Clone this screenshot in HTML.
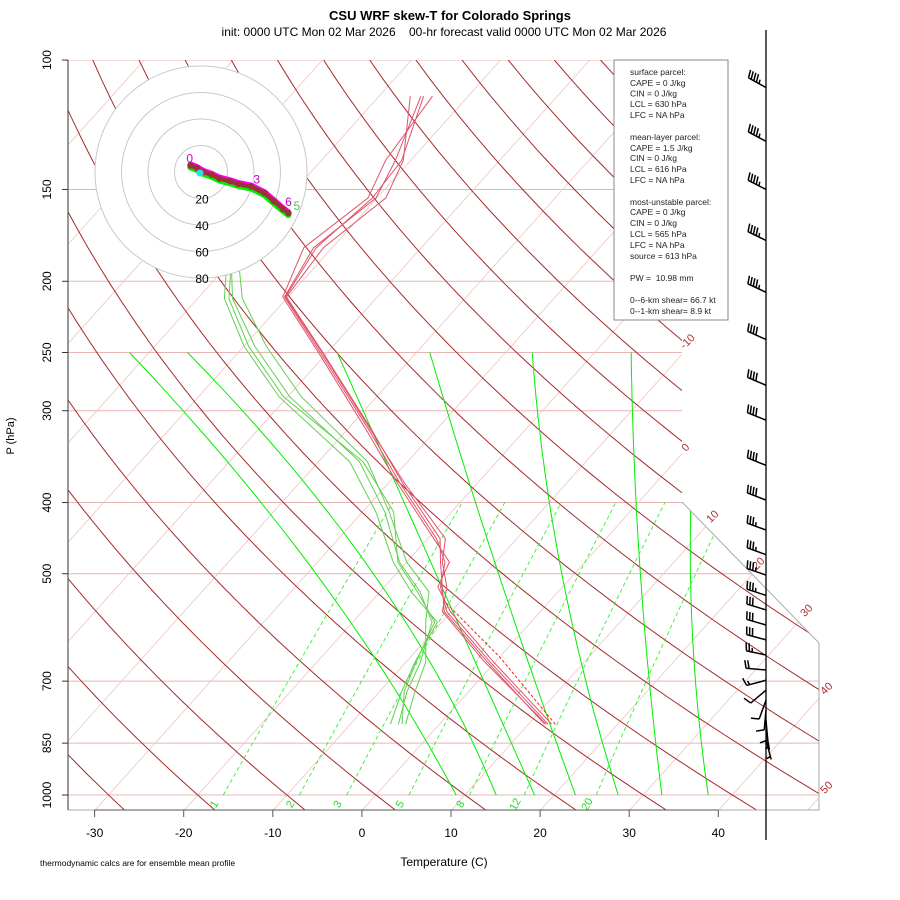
<!DOCTYPE html>
<html><head><meta charset="utf-8">
<style>
html,body{margin:0;padding:0;background:#fff;}
svg{display:block;font-family:"Liberation Sans",sans-serif;}
</style></head>
<body>
<svg id="chart" xmlns="http://www.w3.org/2000/svg" width="900" height="900" viewBox="0 0 900 900">
<defs><clipPath id="plotclip"><polygon points="68,60 682,60 682,502 819,643 819,810 68,810"/></clipPath></defs>
<text x="450" y="20" text-anchor="middle" font-size="13" font-weight="bold">CSU WRF skew-T for Colorado Springs</text>
<text x="444" y="36" text-anchor="middle" font-size="12" xml:space="preserve">init: 0000 UTC Mon 02 Mar 2026    00-hr forecast valid 0000 UTC Mon 02 Mar 2026</text>
<g id="grid" clip-path="url(#plotclip)"></g>
<g id="sounding" clip-path="url(#plotclip)"></g>
<g id="axes"></g>
<g id="hodo"></g>
<g id="barbs"></g>
<g>
<rect x="614" y="60" width="114" height="260" fill="#fff" stroke="#888" stroke-width="1"/>
<text font-size="8.5" fill="#222" xml:space="preserve">
<tspan x="630" y="75">surface parcel:</tspan>
<tspan x="630" y="86">CAPE = 0 J/kg</tspan>
<tspan x="630" y="96.5">CIN = 0 J/kg</tspan>
<tspan x="630" y="107">LCL = 630 hPa</tspan>
<tspan x="630" y="118">LFC = NA hPa</tspan>
<tspan x="630" y="140">mean-layer parcel:</tspan>
<tspan x="630" y="151">CAPE = 1.5 J/kg</tspan>
<tspan x="630" y="161">CIN = 0 J/kg</tspan>
<tspan x="630" y="172">LCL = 616 hPa</tspan>
<tspan x="630" y="183">LFC = NA hPa</tspan>
<tspan x="630" y="205">most-unstable parcel:</tspan>
<tspan x="630" y="215">CAPE = 0 J/kg</tspan>
<tspan x="630" y="226">CIN = 0 J/kg</tspan>
<tspan x="630" y="237">LCL = 565 hPa</tspan>
<tspan x="630" y="248">LFC = NA hPa</tspan>
<tspan x="630" y="259">source = 613 hPa</tspan>
<tspan x="630" y="281">PW =  10.98 mm</tspan>
<tspan x="630" y="303">0--6-km shear= 66.7 kt</tspan>
<tspan x="630" y="314">0--1-km shear= 8.9 kt</tspan>
</text>
</g>
<text x="444" y="866" text-anchor="middle" font-size="12">Temperature (C)</text>
<text x="14" y="436" text-anchor="middle" font-size="11" transform="rotate(-90 14 436)">P (hPa)</text>
<text x="40" y="866" font-size="8.5">thermodynamic calcs are for ensemble mean profile</text>
</svg>
<script>
// ---- data ----
const isobarLevels = [100,150,200,250,300,400,500,700,850,1000];
const tempTicks = [-30,-20,-10,0,10,20,30,40];
const isothermValues = [-130,-120,-110,-100,-90,-80,-70,-60,-50,-40,-30,-20,-10,0,10,20,30,40,50];
const dryAdiabatThetas = [-40,-30,-20,-10,0,10,20,30,40,50,60,70,80,90,100,110,120,130,140,150,160,170];
const moistT250 = [-72.2,-65.7,-48.9,-38.5,-27.0,-15.9,-8.0];
const moistT480 = [-31.4,-24.9,-17.5,-10.3,-3.0,6.0,11.7];
const moistT1000 = [9.0,13.5,17.8,22.4,27.2,32.1,37.3];
const mixingRatios = [1,2,3,5,8,12,20];
const tempP = [801,659,563,521,482,448,375,320,250,210,180,154,137,112];
const tempMean = [12.2,-0.6,-10.5,-13.7,-15.7,-19.0,-28.9,-37.3,-50.8,-60.4,-62.1,-60.1,-61.7,-65.3];
const tempM1 = [11.8,-0.9,-10.8,-13.5,-16.2,-18.6,-28.6,-37.0,-50.5,-60.2,-61.0,-59.0,-60.8,-66.5];
const tempM2 = [12.6,-0.2,-10.1,-14.0,-15.2,-19.3,-29.2,-37.6,-51.0,-60.6,-63.2,-61.0,-62.8,-64.0];
const tempM3 = [12.0,-1.2,-11.0,-13.0,-16.0,-18.0,-28.4,-37.1,-50.6,-60.3,-61.8,-60.5,-61.0,-65.0];
const dewP = [801,724,659,582,529,482,412,352,287,245,211,194,170];
const dewMean = [-4.6,-6.9,-8.4,-11.1,-15.5,-20.8,-27.5,-35.4,-49.8,-58.8,-66.1,-68.9,-72];
const dewM1 = [-5.5,-7.5,-9.0,-10.5,-16.5,-21.5,-28.5,-36.5,-51.0,-60.0,-67.0,-69.5,-72];
const dewM2 = [-3.8,-6.0,-7.8,-11.8,-14.5,-20.0,-27.0,-34.5,-48.5,-57.5,-65.0,-68.0,-71];
const dewM3 = [-4.2,-7.2,-8.9,-10.8,-15.8,-21.0,-26.5,-35.0,-50.5,-59.5,-66.5,-69.0,-72.5];
const parcelP = [801,649,546];
const parcelT = [13.0,0.0,-11.7];
const hodoU = [-8,-3,2,8,14,22,28,38,48,55,62,66];
const hodoV = [5,3,0,-2,-5,-7,-9,-11,-16,-22,-28,-31];
const hodoRings = [20,40,60,80];
const barbP = [109,129,150,176,207,240,277,309,356,397,436,471,502,535,560,587,615,645,676,698,720,743,766,791,816,842];
const barbDir = [299,298,297,296,295,294,293,292,292,291,290,290,289,288,287,286,285,282,275,255,230,200,185,175,170,165];
const barbSpd = [45,45,45,45,45,40,40,40,40,40,35,35,35,35,30,30,30,25,20,15,10,10,10,10,5,5];

// ---- axis functions ----
const NS='http://www.w3.org/2000/svg';
function Yp(p){return 132.182-44.061*Math.log10(p);}
function py(p){return 795-16.681*Yp(p);}
function px(T,p){return 375.9+16.5*(0.54*T+0.90692*Yp(p));}
function mk(tag,attrs,parent){const e=document.createElementNS(NS,tag);for(const k in attrs)e.setAttribute(k,attrs[k]);parent.appendChild(e);return e;}
function poly(pts){return pts.map(q=>q[0].toFixed(1)+','+q[1].toFixed(1)).join(' ');}
const grid=document.getElementById('grid'), snd=document.getElementById('sounding'), axes=document.getElementById('axes'), hodo=document.getElementById('hodo'), barbs=document.getElementById('barbs');
function pressures(p0,p1,n){const a=[];for(let i=0;i<=n;i++)a.push(p0*Math.pow(p1/p0,i/n));return a;}

isobarLevels.forEach(p=>{
  const l=mk('line',{x1:68,x2:819,y1:py(p),y2:py(p),stroke:'#e8b4b4','stroke-width':1},grid);
  
  
});
isothermValues.forEach(T=>{
  const l=mk('line',{x1:px(T,1050),y1:py(1050),x2:px(T,100),y2:py(100),stroke:'#eec4c4','stroke-width':0.8},grid);
  
  
});
dryAdiabatThetas.forEach(th=>{
  const pts=pressures(1050,100,40).map(p=>[px((th+273.15)*Math.pow(p/1000,0.2857)-273.15,p),py(p)]);
  const l=mk('polyline',{points:poly(pts),fill:'none',stroke:'#a52a2a','stroke-width':1},grid);
  
  
});
moistT1000.forEach((t0,i)=>{
  const Ya=Yp(1000),Yb=Yp(480),Yc=Yp(250),ta=t0,tb=moistT480[i],tc=moistT250[i];
  const pts=pressures(1000,250,40).map(p=>{const y=Yp(p);
    const T=ta*(y-Yb)*(y-Yc)/((Ya-Yb)*(Ya-Yc))+tb*(y-Ya)*(y-Yc)/((Yb-Ya)*(Yb-Yc))+tc*(y-Ya)*(y-Yb)/((Yc-Ya)*(Yc-Yb));
    return [px(T,p),py(p)];});
  const l=mk('polyline',{points:poly(pts),fill:'none',stroke:'#00ee00','stroke-width':1},grid);
  
  
});
function tdFromW(w,p){const e=w*p/(622+w);const L=Math.log(e/6.112);return 243.5*L/(17.67-L);}
mixingRatios.forEach(w=>{
  const pts=pressures(1000,400,20).map(p=>[px(tdFromW(w,p),p),py(p)]);
  const l=mk('polyline',{points:poly(pts),fill:'none',stroke:'#33ee33','stroke-width':0.9,'stroke-dasharray':'4,3'},grid);
  
  
  const x=px(tdFromW(w,1000),1000)-6, y=806;
  const t=mk('text',{x:x,y:y,'font-size':11,fill:'#22dd22','text-anchor':'middle',transform:'rotate(-60 '+x+' '+y+')'},axes);
  t.textContent=String(w);
  
  
});
[[-10,690,344],[0,688,450],[10,715,519],[20,761,566],[30,809,613],[40,829,691],[50,829,790]].forEach(a=>{
  const t=mk('text',{x:a[1],y:a[2],'font-size':11,fill:'#b03030','text-anchor':'middle',transform:'rotate(-45 '+a[1]+' '+a[2]+')'},axes);
  t.textContent=String(a[0]);
  
  
});
const b=mk('polyline',{points:'682,502 819,643 819,810 68,810',fill:'none',stroke:'#aaa','stroke-width':1},axes);


const la=mk('line',{x1:68,x2:68,y1:60,y2:810,stroke:'#555','stroke-width':1.2},axes);


isobarLevels.forEach(p=>{
  const y=py(p);
  const tk=mk('line',{x1:62,x2:68,y1:y,y2:y,stroke:'#333'},axes);
  
  
  const t=mk('text',{x:51,y:y,'font-size':12,'text-anchor':'middle',transform:'rotate(-90 51 '+y+')'},axes);
  t.textContent=String(p);
  
  
});
const ax=mk('line',{x1:px(tempTicks[0],1050),x2:px(tempTicks[tempTicks.length-1],1050),y1:810,y2:810,stroke:'#555'},axes);


tempTicks.forEach(T=>{
  const x=px(T,1050);
  const tk=mk('line',{x1:x,x2:x,y1:810,y2:817,stroke:'#555'},axes);
  
  
  const t=mk('text',{x:x,y:837,'font-size':12,'text-anchor':'middle'},axes);
  t.textContent=String(T);
  
  
});
function profile(P,T,color,w,name,dash){
  const l=mk('polyline',{points:poly(P.map((p,i)=>[px(T[i],p),py(p)])),fill:'none',stroke:color,'stroke-width':w},snd);
  if(dash)l.setAttribute('stroke-dasharray',dash);
  
  
}
[dewM1,dewM2,dewM3,dewMean].forEach(d=>profile(dewP,d,'#61D04F',1,'dewpoint-line'));
[tempM1,tempM2,tempM3,tempMean].forEach(d=>profile(tempP,d,'#DF536B',1,'temperature-line'));
profile(parcelP,parcelT,'#ff2020',1,'parcel-path','3,2');

// hodograph
const hc=[201,172], hs=26.5/20;
const bg=mk('circle',{cx:hc[0],cy:hc[1],r:hodoRings[hodoRings.length-1]*hs,fill:'#fff',stroke:'none'},hodo);


hodoRings.forEach(r=>{
  const c=mk('circle',{cx:hc[0],cy:hc[1],r:r*hs,fill:'none',stroke:'#c8c8c8','stroke-width':1},hodo);
  
  
  const t=mk('text',{x:hc[0]+1,y:hc[1]+r*hs+5,'font-size':12,'text-anchor':'middle'},hodo);
  t.textContent=String(r);
  
  
});
const hp=hodoU.map((u,i)=>[hc[0]+u*hs,hc[1]-hodoV[i]*hs]);
[['#00ee00',6,2],['#ff00ff',5,-1.5],['#a03038',4.5,0]].forEach(s=>{
  const l=mk('polyline',{points:poly(hp.map(q=>[q[0],q[1]+s[2]])),fill:'none',stroke:s[0],'stroke-width':s[1],'stroke-linejoin':'round','stroke-linecap':'round'},hodo);
  
  
});
hp.forEach(q=>{
  const d=mk('circle',{cx:q[0],cy:q[1],r:3.2,fill:'#a03038'},hodo);
  
  
});
const cy=mk('circle',{cx:hc[0]-1,cy:hc[1]+1,r:3.5,fill:'#28E2E5'},hodo);


[['0',hp[0],'#cc00cc',-6],['3',hp[7],'#cc00cc',0],['6',hp[10],'#cc00cc',0],['5',hp[11],'#55bb55',3]].forEach(a=>{
  const t=mk('text',{x:a[1][0]+2+a[3],y:a[1][1]-3,'font-size':12,fill:a[2]},hodo);
  t.textContent=a[0];
  
  
});

// wind barbs
const bl=mk('line',{x1:766,x2:766,y1:30,y2:840,stroke:'#000','stroke-width':1.3},barbs);


barbP.forEach((p,i)=>{
  const d=barbDir[i]*Math.PI/180, L=20;
  const ux=Math.sin(d), uy=-Math.cos(d);
  const x0=766, y0=py(p), x1=x0+ux*L, y1=y0+uy*L;
  const g=mk('g',{stroke:'#000','stroke-width':1.5,fill:'#000'},barbs);
  
  
  mk('line',{x1:x0,y1:y0,x2:x1,y2:y1},g);
  const nx=-uy, ny=ux;
  let s=barbSpd[i], pos=0;
  while(s>=50){const bx=x1-ux*pos,by=y1-uy*pos;mk('polygon',{points:poly([[bx,by],[bx+nx*8,by+ny*8],[bx-ux*4,by-uy*4]])},g);pos+=5;s-=50;}
  while(s>=10){const bx=x1-ux*pos,by=y1-uy*pos;mk('line',{x1:bx,y1:by,x2:bx+nx*8+ux*2,y2:by+ny*8+uy*2},g);pos+=3;s-=10;}
  if(s>=5){if(pos===0)pos=3;const bx=x1-ux*pos,by=y1-uy*pos;mk('line',{x1:bx,y1:by,x2:bx+nx*4+ux*1,y2:by+ny*4+uy*1},g);}
});
</script>
</body></html>
